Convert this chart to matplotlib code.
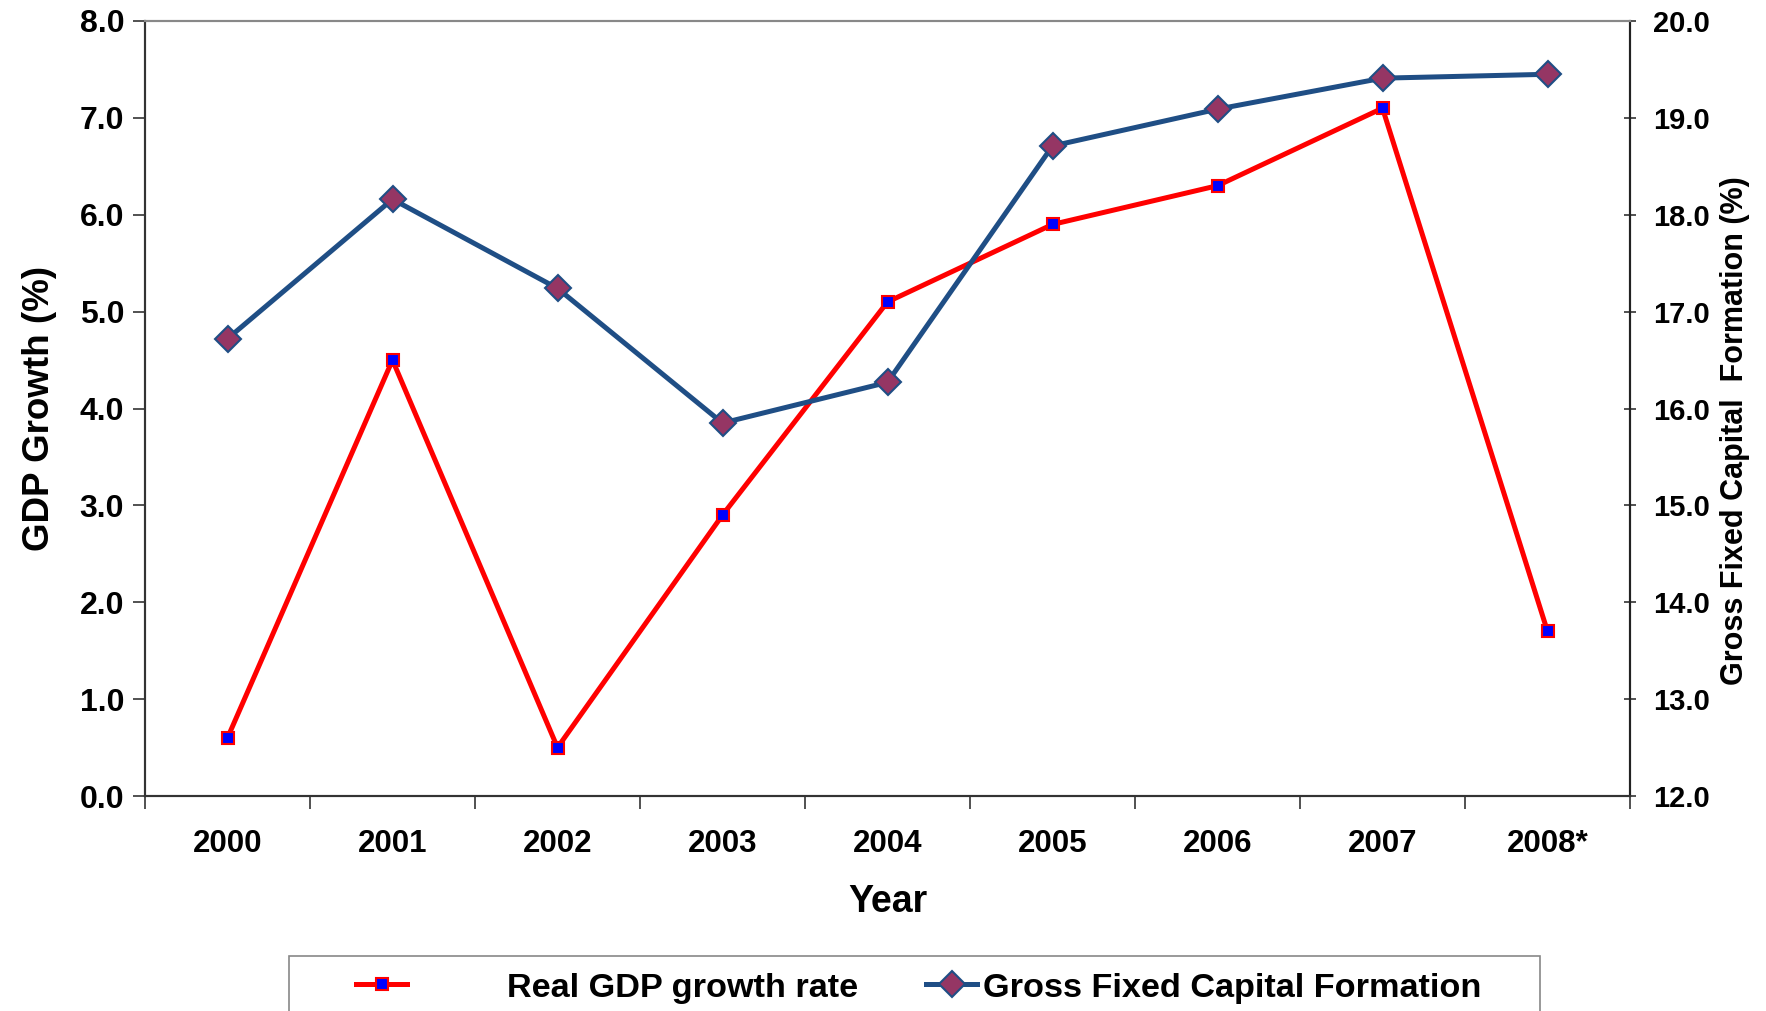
import matplotlib.pyplot as plt
from matplotlib.lines import Line2D
from matplotlib.patches import Rectangle
import numpy as np

plt.rcParams["font.family"] = ["Liberation Sans", "DejaVu Sans"]
plt.rcParams["font.weight"] = "bold"

years = ["2000", "2001", "2002", "2003", "2004", "2005", "2006", "2007", "2008*"]
gdp_growth = [0.6, 4.5, 0.5, 2.9, 5.1, 5.9, 6.3, 7.1, 1.7]
gfcf = [16.72, 18.16, 17.24, 15.85, 16.27, 18.71, 19.09, 19.41, 19.45]

RED = "#FF0000"
NAVY = "#1F4E85"
MAROON = "#953664"

fig = plt.figure(figsize=(17.66, 10.11), dpi=100)
ax = fig.add_axes([145 / 1766, 1 - 796 / 1011, (1630 - 145) / 1766, (796 - 21) / 1011])
ax2 = ax.twinx()

x = np.arange(len(years))
ax.plot(x, gdp_growth, color=RED, lw=3.6, marker="s", ms=9,
        mfc="#0000FF", mec=RED, mew=1.5, zorder=3)
ax2.plot(x, gfcf, color=NAVY, lw=3.6, marker="D", ms=13,
         mfc=MAROON, mec=NAVY, mew=1.5, zorder=3)

ax.set_xlim(-0.5, len(years) - 0.5)
ax.set_ylim(0, 8)
ax2.set_ylim(12, 20)
left_ticks = np.arange(0, 8.01, 1.0)
right_ticks = np.arange(12, 20.01, 1.0)
ax.set_yticks(left_ticks)
ax.set_yticklabels([f"{v:.1f}" for v in left_ticks], fontsize=23, fontweight="bold")
ax2.set_yticks(right_ticks)
ax2.set_yticklabels([f"{v:.1f}" for v in right_ticks], fontsize=21, fontweight="bold")

ax.set_xticks(x)
ax.set_xticklabels(years, fontsize=22.5, fontweight="bold")
ax.set_xticks(np.arange(-0.5, len(years)), minor=True)
ax.tick_params(axis="x", which="major", length=0, pad=24)
ax.tick_params(axis="x", which="minor", length=9, width=1.2, color="#333333", direction="out")
ax.tick_params(axis="y", length=9, width=1.2, color="#333333", direction="out", pad=6)
ax2.tick_params(axis="y", length=9, width=1.2, color="#333333", direction="inout", pad=12)

for a in (ax, ax2):
    a.spines["top"].set_color("#888888")
    a.spines["left"].set_color("#333333")
    a.spines["bottom"].set_color("#333333")
    a.spines["right"].set_color("#222222")
    for s in a.spines.values():
        s.set_linewidth(1.5)

ax.set_xlabel("Year", fontsize=27, fontweight="bold", labelpad=18)
ax.set_ylabel("GDP Growth (%)", fontsize=26.5, fontweight="bold", labelpad=16)
ax2.set_ylabel("Gross Fixed Capital  Formation (%)", fontsize=22, fontweight="bold",
               va="center")
ax2.yaxis.set_label_coords(1.071, 0.472)

# legend box, partly cut off at the bottom edge like the original
fig.patches.append(Rectangle((289 / 1766, -0.02), (1540 - 289) / 1766, 0.02 + 1 - 956 / 1011,
                             transform=fig.transFigure, fill=False, ec="#888888", lw=1.2))
h1 = Line2D([], [], color=RED, lw=3.6, marker="s", ms=9, mfc="#0000FF", mec=RED, mew=1.5)
h2 = Line2D([], [], color=NAVY, lw=3.6, marker="D", ms=13, mfc=MAROON, mec=NAVY, mew=1.5)
leg_y = 1 - 988 / 1011
fig.legend([h1], ["Real GDP growth rate"], loc="center left",
           bbox_to_anchor=(356 / 1766, leg_y), frameon=False, borderpad=0,
           borderaxespad=0, handlelength=1.5, handletextpad=2.9,
           prop={"size": 24.7, "weight": "bold"})
fig.legend([h2], ["Gross Fixed Capital Formation"], loc="center left",
           bbox_to_anchor=(926 / 1766, leg_y), frameon=False, borderpad=0,
           borderaxespad=0, handlelength=1.5, handletextpad=0.15,
           prop={"size": 24.7, "weight": "bold"})

fig.savefig("out.png", dpi=100)
